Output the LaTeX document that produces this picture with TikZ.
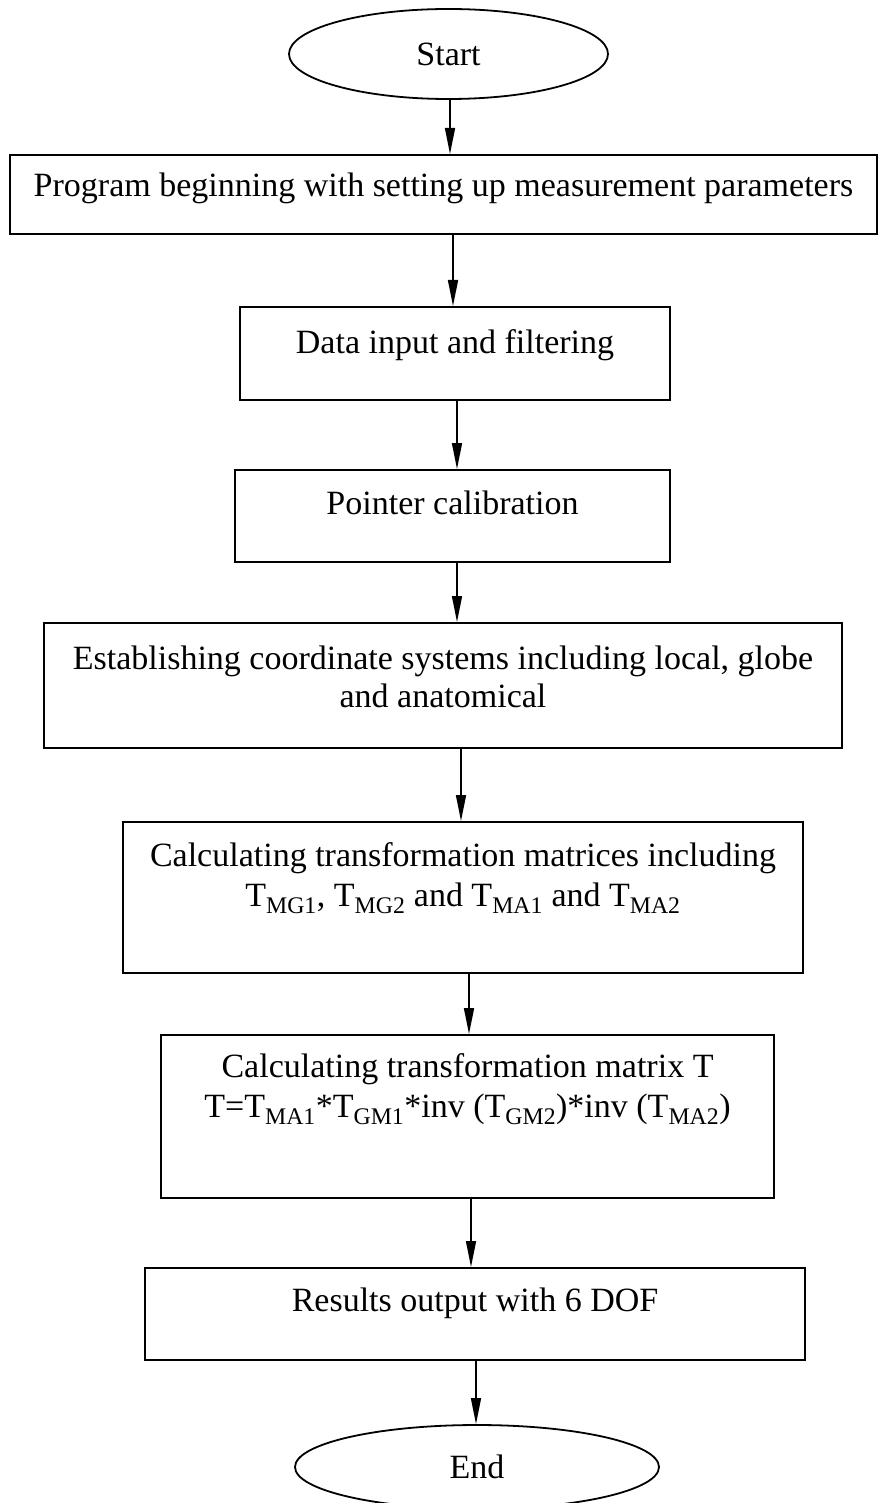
\documentclass[tikz,border=0pt]{standalone}
\usepackage{fontspec}
\setmainfont{Liberation Serif}
\usetikzlibrary{shapes.geometric,arrows.meta}
\begin{document}
\begin{tikzpicture}[x=1pt,y=-1pt,
  every node/.style={font=\fontsize{34}{40}\selectfont},
  box/.style={draw, line width=2pt, inner sep=0pt},
  term/.style={draw, ellipse, line width=1.8pt, inner sep=0pt},
  lbl/.style={align=center, inner sep=0pt, anchor=north},
  arr/.style={line width=1.5pt, -{Triangle[length=26pt,width=10pt]}}]
\useasboundingbox (0,0) rectangle (879,1503);
% arrow columns
\coordinate (c1) at (450,0);
\coordinate (c2) at (453,0);
\coordinate (c3) at (457,0);
\coordinate (c4) at (457,0);
\coordinate (c5) at (461,0);
\coordinate (c6) at (469,0);
\coordinate (c7) at (471,0);
\coordinate (c8) at (476,0);
% nodes
\node[term, minimum width=319pt, minimum height=90pt] (s) at (448.5,54) {Start};
\node[box, minimum width=867pt, minimum height=79pt,
  label={[lbl, yshift=-19pt]north:{Program beginning with setting up measurement parameters}}] (b1) at (443.5,194.5) {};
\node[box, minimum width=430pt, minimum height=93pt,
  label={[lbl, yshift=-23pt]north:{Data input and filtering}}] (b2) at (455,353.5) {};
\node[box, minimum width=435pt, minimum height=92pt,
  label={[lbl, yshift=-22pt]north:{Pointer calibration}}] (b3) at (452.5,516) {};
\node[box, minimum width=798pt, minimum height=125pt,
  label={[lbl, yshift=-24pt]north:{Establishing coordinate systems including local, globe\\[-2pt] and anatomical}}] (b4) at (443,685.5) {};
\node[box, minimum width=680pt, minimum height=151pt,
  label={[lbl, yshift=-21pt]north:{Calculating transformation matrices including\\ T\textsubscript{MG1}, T\textsubscript{MG2} and T\textsubscript{MA1} and T\textsubscript{MA2}}}] (b5) at (463,897.5) {};
\node[box, minimum width=613pt, minimum height=163pt,
  label={[lbl, yshift=-19pt]north:{Calculating transformation matrix T\\ T=T\textsubscript{MA1}*T\textsubscript{GM1}*inv (T\textsubscript{GM2})*inv (T\textsubscript{MA2})}}] (b6) at (467.5,1116.5) {};
\node[box, minimum width=660pt, minimum height=92pt,
  label={[lbl, yshift=-21pt]north:{Results output with 6 DOF}}] (b7) at (475,1314) {};
\node[term, minimum width=364pt, minimum height=84pt] (e) at (477,1467) {End};
% connectors
\draw[arr] (s.south -| c1) -- (b1.north -| c1);
\draw[arr] (b1.south -| c2) -- (b2.north -| c2);
\draw[arr] (b2.south -| c3) -- (b3.north -| c3);
\draw[arr] (b3.south -| c4) -- (b4.north -| c4);
\draw[arr] (b4.south -| c5) -- (b5.north -| c5);
\draw[arr] (b5.south -| c6) -- (b6.north -| c6);
\draw[arr] (b6.south -| c7) -- (b7.north -| c7);
\draw[arr] (b7.south -| c8) -- (e.north -| c8);
\end{tikzpicture}
\end{document}
